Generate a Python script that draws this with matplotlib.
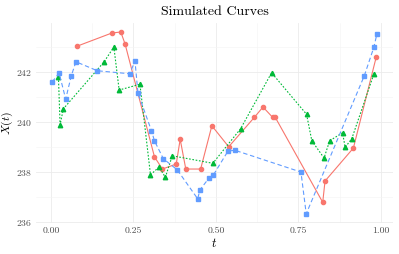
import numpy as np
import matplotlib
matplotlib.use("Agg")
from matplotlib import pyplot as plt
from matplotlib.ticker import MultipleLocator, FixedLocator

# computer-modern look
plt.rcParams['font.family'] = 'serif'
plt.rcParams['font.serif'] = ['cmr10']
plt.rcParams['mathtext.fontset'] = 'cm'
plt.rcParams['axes.formatter.use_mathtext'] = True

# series
red_t = [0.079, 0.185, 0.212, 0.225, 0.314, 0.338, 0.380, 0.392, 0.409, 0.454,
         0.488, 0.539, 0.617, 0.643, 0.672, 0.680, 0.824, 0.831, 0.917, 0.986]
red_x = [243.03, 243.56, 243.60, 243.12, 238.61, 238.12, 238.32, 239.31, 238.12, 238.12,
         239.85, 239.01, 240.19, 240.60, 240.19, 240.19, 236.79, 237.64, 238.96, 242.59]

blue_t = [0.004, 0.025, 0.045, 0.062, 0.076, 0.141, 0.239, 0.255, 0.264, 0.305,
          0.314, 0.341, 0.383, 0.445, 0.452, 0.480, 0.492, 0.537, 0.558, 0.758,
          0.774, 0.950, 0.979, 0.988]
blue_x = [241.60, 241.96, 240.92, 241.85, 242.41, 242.05, 241.93, 242.44, 241.16, 239.65,
          239.25, 238.53, 238.09, 236.93, 237.29, 237.77, 237.87, 238.84, 238.87, 238.00,
          236.33, 241.85, 242.99, 243.51]

green_t = [0.023, 0.028, 0.038, 0.161, 0.191, 0.207, 0.270, 0.302, 0.328, 0.347,
           0.368, 0.491, 0.575, 0.669, 0.775, 0.791, 0.828, 0.845, 0.884, 0.892,
           0.912, 0.979]
green_x = [241.80, 239.89, 240.53, 242.40, 243.00, 241.28, 241.51, 237.89, 238.20, 237.79,
           238.65, 238.35, 239.73, 241.97, 240.31, 239.25, 238.56, 239.25, 239.57, 238.99,
           239.33, 241.92]

x_ticks = [0.0, 0.25, 0.5, 0.75, 1.0]
x_labels = ["0.00", "0.25", "0.50", "0.75", "1.00"]
y_ticks = [236, 238, 240, 242]

fig = plt.figure(figsize=(3.99, 2.54), dpi=100)
ax = fig.add_axes([36/399, 31.2/254, 357/399, 199.8/254])

ax.plot(red_t, red_x, color='#F8766D', lw=0.8, ls='-', marker='o', ms=3.0, zorder=3)
ax.plot(green_t, green_x, color='#00BA38', lw=0.8, ls=(0, (1.5, 1.5)), marker='^', ms=3.2, zorder=3)
ax.plot(blue_t, blue_x, color='#619CFF', lw=0.8, ls=(0, (4, 2.5)), marker='s', ms=2.8, zorder=3)

ax.set_xlim(-0.045, 1.037)
ax.set_ylim(235.97, 243.96)
ax.xaxis.set_major_locator(FixedLocator(x_ticks))
ax.set_xticklabels(x_labels)
ax.yaxis.set_major_locator(FixedLocator(y_ticks))
ax.xaxis.set_minor_locator(MultipleLocator(0.125))
ax.yaxis.set_minor_locator(MultipleLocator(1))

ax.grid(which='major', color='#EBEBEB', lw=0.6, zorder=0)
ax.grid(which='minor', color='#F4F4F4', lw=0.4, zorder=0)
ax.set_axisbelow(True)
for s in ax.spines.values():
    s.set_visible(False)
ax.tick_params(which='both', length=0, labelsize=7, colors='#4D4D4D', pad=3)

ax.set_xlabel(r'$t$', fontsize=9, labelpad=1)
ax.set_ylabel(r'$X(t)$', fontsize=8.5, labelpad=0.5)
ax.set_title('Simulated Curves', fontsize=10, pad=6)

fig.savefig('out.png', dpi=100)
